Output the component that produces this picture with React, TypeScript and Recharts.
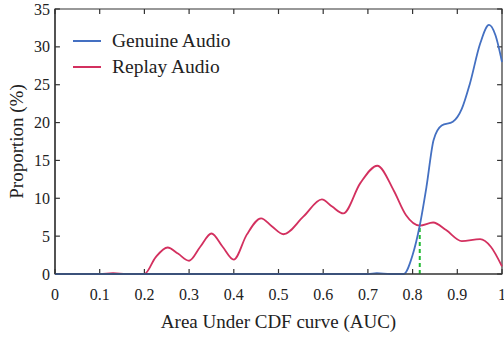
import React from "react";
import {
  LineChart,
  Line,
  XAxis,
  YAxis,
  ReferenceLine,
  ReferenceArea,
  Label,
} from "recharts";

// Genuine audio AUC density
const genuineAuc = [0, 0.5, 0.7, 0.72, 0.75, 0.78, 0.8, 0.816, 0.831, 0.847, 0.865, 0.89, 0.91, 0.928, 0.951, 0.971, 0.985, 1.0];
const genuinePct = [0, 0, 0, 0.1, 0, 0, 2.5, 6.4, 11.5, 17.7, 19.6, 20.1, 21.8, 25.1, 30.4, 32.9, 31.6, 28.0];

// Replay audio AUC density
const replayAuc = [0, 0.05, 0.1, 0.13, 0.16, 0.2, 0.225, 0.252, 0.275, 0.3, 0.325, 0.35, 0.375, 0.4, 0.429, 0.461, 0.485, 0.511, 0.556, 0.597, 0.62, 0.645, 0.683, 0.721, 0.758, 0.785, 0.816, 0.846, 0.875, 0.91, 0.951, 0.975, 1.0];
const replayPct = [0, 0, 0, 0.1, 0, 0, 2.2, 3.5, 2.7, 1.75, 3.6, 5.35, 3.6, 1.9, 5.2, 7.35, 6.3, 5.25, 7.6, 9.85, 8.9, 8.0, 12.0, 14.3, 11.0, 7.8, 6.4, 6.8, 5.8, 4.35, 4.6, 3.6, 1.0];

const xTicks = [0, 0.1, 0.2, 0.3, 0.4, 0.5, 0.6, 0.7, 0.8, 0.9, 1];
const yTicks = [0, 5, 10, 15, 20, 25, 30, 35];

const threshold = 0.816;
const thresholdPct = 6.4;

const BLUE = "#4470c2";
const RED = "#d3305f";
const AXIS = "#333";
const TEXT = "#222";
const FONT = "'Liberation Serif', 'DejaVu Serif', serif";

// inward tick length in data units (~5px)
const TICK_DX = 0.011;
const TICK_DY = 0.66;

const genuineData = genuineAuc.map((x, i) => ({ x, y: genuinePct[i] }));
const replayData = replayAuc.map((x, i) => ({ x, y: replayPct[i] }));

const series = [
  { name: "Genuine Audio", color: BLUE },
  { name: "Replay Audio", color: RED },
];

const BottomTick = ({ x, y, payload }: any) => (
  <text x={x} y={y + 26} textAnchor="middle" fill={TEXT} fontSize={16} fontFamily={FONT}>
    {payload.value}
  </text>
);

const LeftTick = ({ x, y, payload }: any) => (
  <text x={x - 5} y={y + 5.5} textAnchor="end" fill={TEXT} fontSize={16} fontFamily={FONT}>
    {payload.value}
  </text>
);

export default function App() {
  const tickProps = { xAxisId: "b", yAxisId: "l", stroke: AXIS, strokeWidth: 1.2 };
  return (
    <div style={{ position: "absolute", left: 0, top: 0, width: 504, height: 339, background: "#fff", fontFamily: FONT }}>
      <LineChart width={504} height={339} margin={{ top: 9, right: 2, left: 10, bottom: 30 }}>
        <XAxis
          xAxisId="b"
          dataKey="x"
          type="number"
          domain={[0, 1]}
          ticks={xTicks}
          height={35}
          stroke={AXIS}
          strokeWidth={1.2}
          tickLine={false}
          tickSize={0}
          tickMargin={0}
          tick={BottomTick}
          interval={0}
        >
          <Label value="Area Under CDF curve (AUC)" position="bottom" offset={6} fill={TEXT} fontSize={19} fontFamily={FONT} />
        </XAxis>
        <YAxis
          yAxisId="l"
          type="number"
          domain={[0, 35]}
          ticks={yTicks}
          width={45}
          stroke={AXIS}
          strokeWidth={1.2}
          tickLine={false}
          tickSize={0}
          tickMargin={0}
          tick={LeftTick}
          interval={0}
        >
          <Label value="Proportion (%)" angle={-90} position="insideLeft" offset={6} fill={TEXT} fontSize={19} fontFamily={FONT} style={{ textAnchor: "middle" }} />
        </YAxis>
        <ReferenceArea
          xAxisId="b"
          yAxisId="l"
          x1={0}
          x2={1}
          y1={0}
          y2={35}
          fill="none"
          fillOpacity={0}
          stroke={AXIS}
          strokeWidth={1.2}
        />
        {xTicks.map((t) => (
          <ReferenceLine key={`xb${t}`} {...tickProps} segment={[{ x: t, y: 0 }, { x: t, y: TICK_DY }]} />
        ))}
        {xTicks.map((t) => (
          <ReferenceLine key={`xt${t}`} {...tickProps} segment={[{ x: t, y: 35 }, { x: t, y: 35 - TICK_DY }]} />
        ))}
        {yTicks.map((t) => (
          <ReferenceLine key={`yl${t}`} {...tickProps} segment={[{ x: 0, y: t }, { x: TICK_DX, y: t }]} />
        ))}
        {yTicks.map((t) => (
          <ReferenceLine key={`yr${t}`} {...tickProps} segment={[{ x: 1, y: t }, { x: 1 - TICK_DX, y: t }]} />
        ))}
        <ReferenceLine
          xAxisId="b"
          yAxisId="l"
          segment={[{ x: threshold, y: 0 }, { x: threshold, y: thresholdPct }]}
          stroke="#22bb33"
          strokeWidth={2}
          strokeDasharray="4 3"
        />
        <Line
          xAxisId="b"
          yAxisId="l"
          data={replayData}
          dataKey="y"
          type="monotone"
          stroke={RED}
          strokeWidth={1.8}
          dot={false}
          isAnimationActive={false}
        />
        <Line
          xAxisId="b"
          yAxisId="l"
          data={genuineData}
          dataKey="y"
          type="monotone"
          stroke={BLUE}
          strokeWidth={1.8}
          dot={false}
          isAnimationActive={false}
        />
      </LineChart>
      <div style={{ position: "absolute", left: 73, top: 28, fontSize: 19.5, color: TEXT, lineHeight: "26px" }}>
        {series.map((e) => (
          <div key={e.name} style={{ display: "flex", alignItems: "center" }}>
            <span style={{ width: 28, height: 2, background: e.color, marginRight: 11 }} />
            <span>{e.name}</span>
          </div>
        ))}
      </div>
    </div>
  );
}
